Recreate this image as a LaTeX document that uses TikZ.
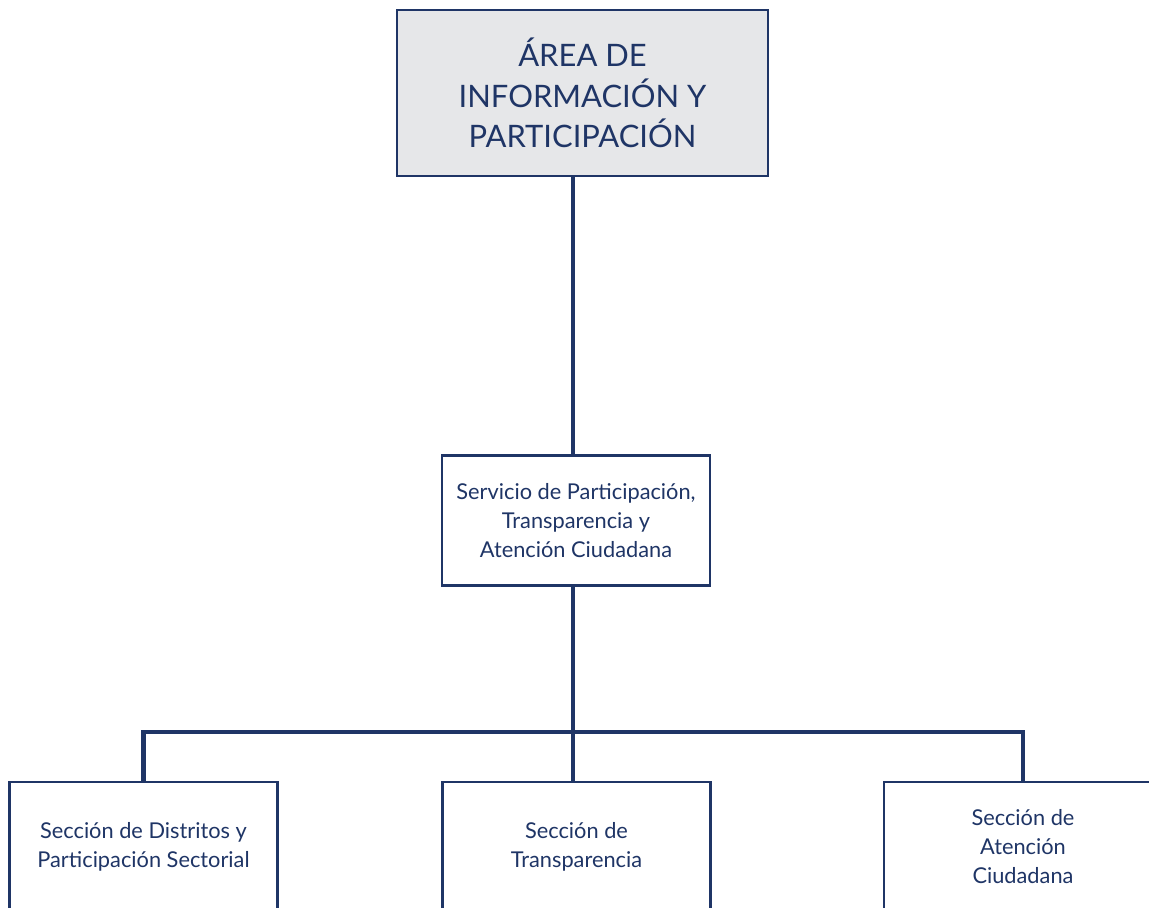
\documentclass[tikz,border=0pt]{standalone}
\usepackage{fontspec}
\setmainfont{Lato}
\definecolor{azulosc}{HTML}{1F3566}
\definecolor{grisfondo}{HTML}{E6E7E9}
\begin{document}
\begin{tikzpicture}[
    x=0.02cm, y=0.02cm,
    area/.style={draw=azulosc, line width=1.3pt, fill=grisfondo, text=azulosc,
                 minimum width=7.42cm, minimum height=3.32cm, align=center,
                 font=\fontsize{17.6}{23}\selectfont},
    unidad/.style={draw=azulosc, line width=1.3pt, fill=white, text=azulosc,
                   minimum width=5.36cm, minimum height=2.6cm, align=center,
                   font=\fontsize{12.4}{16.5}\selectfont},
    enlace/.style={draw=azulosc, line width=2.8pt}
]
    \useasboundingbox (0,0) rectangle (1149,-908);
    \clip (0,0) rectangle (1149,-908);

    \node[area] (area) at (582.5,-93) {ÁREA DE\\INFORMACIÓN Y\\PARTICIPACIÓN};
    \node[unidad] (serv) at (576,-520.5) {Servicio de Participación,\\Transparencia y\\Atención Ciudadana};
    \node[unidad] (secdis) at (143.5,-847) {Sección de Distritos y\\Participación Sectorial};
    \node[unidad] (sectra) at (576.5,-847) {Sección de\\Transparencia};
    \node[unidad, minimum width=5.56cm] (secate) at (1023,-847) {Sección de\\Atención\\Ciudadana};

    \coordinate (tronco) at (573,0);
    \coordinate (barra) at (0,-732);

    \draw[enlace] (area.south -| tronco) -- (serv.north -| tronco);
    \draw[enlace] (serv.south -| tronco) -- (sectra.north -| tronco);
    \draw[enlace] (secdis.north) -- (secdis.north |- barra) -- (secate.north |- barra) -- (secate.north);
\end{tikzpicture}
\end{document}
